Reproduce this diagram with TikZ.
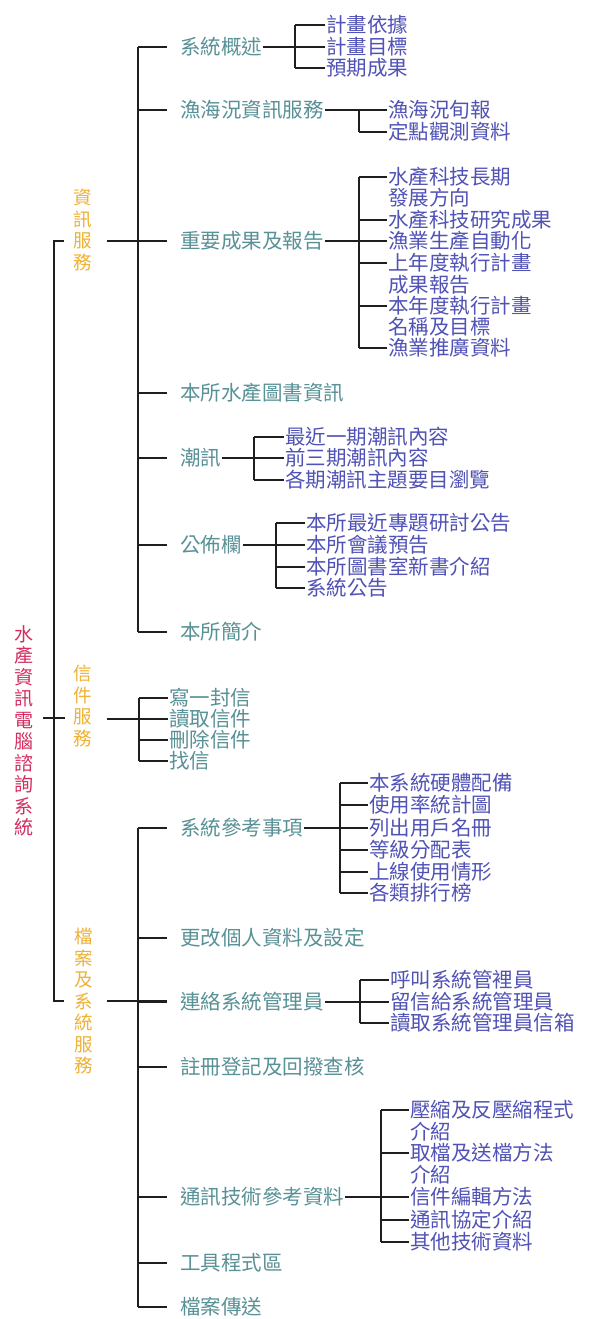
\documentclass[tikz,border=0pt]{standalone}
\usepackage{fontspec}
\newfontfamily\cjk{Noto Sans CJK TC}
\definecolor{rootc}{RGB}{212,45,95}
\definecolor{catc}{RGB}{238,178,55}
\definecolor{subc}{RGB}{88,145,150}
\definecolor{leafc}{RGB}{80,82,182}
\tikzset{
  lnk/.style={line width=1.5pt, draw=black!88},
  rootlab/.style={font=\cjk\fontsize{19}{21.5}\selectfont, text=rootc, align=center, inner sep=0pt},
  catlab/.style={font=\cjk\fontsize{18.5}{21.5}\selectfont, text=catc, align=center, inner sep=0pt},
  sublab/.style={font=\cjk\fontsize{20.5}{21}\selectfont, text=subc, anchor=west, inner sep=1pt},
  leaf/.style={font=\cjk\fontsize{20.5}{21}\selectfont, text=leafc, anchor=west, inner sep=1pt},
}
\begin{document}
\begin{tikzpicture}[x=1pt,y=-1pt]
\useasboundingbox (0,0) rectangle (589,1319);
\fill[white] (0,0) rectangle (589,1319);

% ---------- root and categories ----------
\node[rootlab] (root) at (24,731) {水\\產\\資\\訊\\電\\腦\\諮\\詢\\系\\統};
\node[catlab] (cat1) at (83,230) {資\\訊\\服\\務};
\node[catlab] (cat2) at (83,706) {信\\件\\服\\務};
\node[catlab] (cat3) at (84,1001) {檔\\案\\及\\系\\統\\服\\務};

\coordinate (bL) at (54,0);
\coordinate (a1) at (64,241);
\coordinate (a2) at (65,718);
\coordinate (a3) at (64,1001);
\coordinate (r0) at (43,718);
\draw[lnk] (a1) -- (a1 -| bL) -- (a3 -| bL) -- (a3);
\draw[lnk] (r0) -- (a2);

% ---------- section 1 ----------
\coordinate (V) at (138,0);
\coordinate (tk) at (167,0);
\node[sublab] (s11) at (179,47) {系統概述};
\node[sublab] (s12) at (179,110) {漁海況資訊服務};
\node[sublab] (s13) at (179,241) {重要成果及報告};
\node[sublab] (s14) at (179,393) {本所水產圖書資訊};
\node[sublab] (s15) at (179,458) {潮訊};
\node[sublab] (s16) at (179,545) {公佈欄};
\node[sublab] (s17) at (179,632) {本所簡介};
\coordinate (c1o) at (107,241);
\draw[lnk] (c1o) -- (s13.west -| tk);
\draw[lnk] (s11.west -| V) -- (s17.west -| V);
\foreach \s in {s11,s12,s13,s14,s15,s16,s17}
  \draw[lnk] (\s.west -| V) -- (\s.west -| tk);

% 系統概述
\coordinate (B11) at (295,0);
\node[leaf] (l111) at (325,25) {計畫依據};
\node[leaf] (l112) at (325,47) {計畫目標};
\node[leaf] (l113) at (325,68) {預期成果};
\draw[lnk] (s11.east) -- (s11.east -| B11);
\draw[lnk] (l111.west -| B11) -- (l113.west -| B11);
\foreach \c in {l111,l112,l113} \draw[lnk] (\c.west -| B11) -- (\c.west);

% 漁海況資訊服務
\coordinate (B12) at (359,0);
\node[leaf] (l121) at (387,110) {漁海況旬報};
\node[leaf] (l122) at (387,132) {定點觀測資料};
\draw[lnk] (s12.east) -- (l121.west);
\draw[lnk] (l121.west -| B12) -- (l122.west -| B12);
\draw[lnk] (l122.west -| B12) -- (l122.west);

% 重要成果及報告
\coordinate (B13) at (359,0);
\node[leaf] (l131) at (387,177) {水產科技長期};
\node[leaf] (l131b) at (387,198) {發展方向};
\node[leaf] (l132) at (387,220) {水產科技研究成果};
\node[leaf] (l133) at (387,241) {漁業生產自動化};
\node[leaf] (l134) at (387,263) {上年度執行計畫};
\node[leaf] (l134b) at (387,285) {成果報告};
\node[leaf] (l135) at (387,306) {本年度執行計畫};
\node[leaf] (l135b) at (387,327) {名稱及目標};
\node[leaf] (l136) at (387,348) {漁業推廣資料};
\draw[lnk] (s13.east) -- (s13.east -| B13);
\draw[lnk] (l131.west -| B13) -- (l136.west -| B13);
\foreach \c in {l131,l132,l133,l134,l135,l136} \draw[lnk] (\c.west -| B13) -- (\c.west);

% 潮訊
\coordinate (B15) at (254,0);
\node[leaf] (l151) at (284,437) {最近一期潮訊內容};
\node[leaf] (l152) at (284,458) {前三期潮訊內容};
\node[leaf] (l153) at (284,480) {各期潮訊主題要目瀏覽};
\draw[lnk] (s15.east) -- (s15.east -| B15);
\draw[lnk] (l151.west -| B15) -- (l153.west -| B15);
\foreach \c in {l151,l152,l153} \draw[lnk] (\c.west -| B15) -- (\c.west);

% 公佈欄
\coordinate (B16) at (276,0);
\node[leaf] (l161) at (305,523) {本所最近專題研討公告};
\node[leaf] (l162) at (305,545) {本所會議預告};
\node[leaf] (l163) at (305,567) {本所圖書室新書介紹};
\node[leaf] (l164) at (305,588) {系統公告};
\draw[lnk] (s16.east) -- (s16.east -| B16);
\draw[lnk] (l161.west -| B16) -- (l164.west -| B16);
\foreach \c in {l161,l162,l163,l164} \draw[lnk] (\c.west -| B16) -- (\c.west);

% ---------- section 2 ----------
\coordinate (B2) at (139,0);
\coordinate (c2o) at (107,719);
\node[sublab] (m1) at (168,698) {寫一封信};
\node[sublab] (m2) at (168,719) {讀取信件};
\node[sublab] (m3) at (168,740) {刪除信件};
\node[sublab] (m4) at (168,761) {找信};
\draw[lnk] (c2o) -- (m2.west);
\draw[lnk] (m1.west -| B2) -- (m4.west -| B2);
\foreach \c in {m1,m3,m4} \draw[lnk] (\c.west -| B2) -- (\c.west);

% ---------- section 3 ----------
\node[sublab] (t1) at (179,828) {系統參考事項};
\node[sublab] (t2) at (179,938) {更改個人資料及設定};
\node[sublab] (t3) at (179,1002) {連絡系統管理員};
\node[sublab] (t4) at (179,1067) {註冊登記及回撥查核};
\node[sublab] (t5) at (179,1197) {通訊技術參考資料};
\node[sublab] (t6) at (179,1263) {工具程式區};
\node[sublab] (t7) at (179,1307) {檔案傳送};
\coordinate (c3o) at (107,1001);
\draw[lnk] (c3o) -- (c3o -| tk);
\draw[lnk] (t1.west -| V) -- (t7.west -| V);
\foreach \s in {t1,t2,t3,t4,t5,t6,t7}
  \draw[lnk] (\s.west -| V) -- (\s.west -| tk);

% 系統參考事項
\coordinate (B31) at (340,0);
\node[leaf] (u11) at (368,783) {本系統硬體配備};
\node[leaf] (u12) at (368,805) {使用率統計圖};
\node[leaf] (u13) at (368,828) {列出用戶名冊};
\node[leaf] (u14) at (368,850) {等級分配表};
\node[leaf] (u15) at (368,872) {上線使用情形};
\node[leaf] (u16) at (368,893) {各類排行榜};
\draw[lnk] (t1.east) -- (t1.east -| B31);
\draw[lnk] (u11.west -| B31) -- (u16.west -| B31);
\foreach \c in {u11,u12,u13,u14,u15,u16} \draw[lnk] (\c.west -| B31) -- (\c.west);

% 連絡系統管理員
\coordinate (B33) at (360,0);
\node[leaf] (u31) at (389,980) {呼叫系統管裡員};
\node[leaf] (u32) at (389,1002) {留信給系統管理員};
\node[leaf] (u33) at (389,1023) {讀取系統管理員信箱};
\draw[lnk] (t3.east) -- (t3.east -| B33);
\draw[lnk] (u31.west -| B33) -- (u33.west -| B33);
\foreach \c in {u31,u32,u33} \draw[lnk] (\c.west -| B33) -- (\c.west);

% 通訊技術參考資料
\coordinate (B35) at (381,0);
\node[leaf] (u51) at (409,1110) {壓縮及反壓縮程式};
\node[leaf] (u51b) at (409,1132) {介紹};
\node[leaf] (u52) at (409,1153) {取檔及送檔方法};
\node[leaf] (u52b) at (409,1175) {介紹};
\node[leaf] (u53) at (409,1197) {信件編輯方法};
\node[leaf] (u54) at (409,1220) {通訊協定介紹};
\node[leaf] (u55) at (409,1242) {其他技術資料};
\draw[lnk] (t5.east) -- (t5.east -| B35);
\draw[lnk] (u51.west -| B35) -- (u55.west -| B35);
\foreach \c in {u51,u52,u53,u54,u55} \draw[lnk] (\c.west -| B35) -- (\c.west);
\end{tikzpicture}
\end{document}
